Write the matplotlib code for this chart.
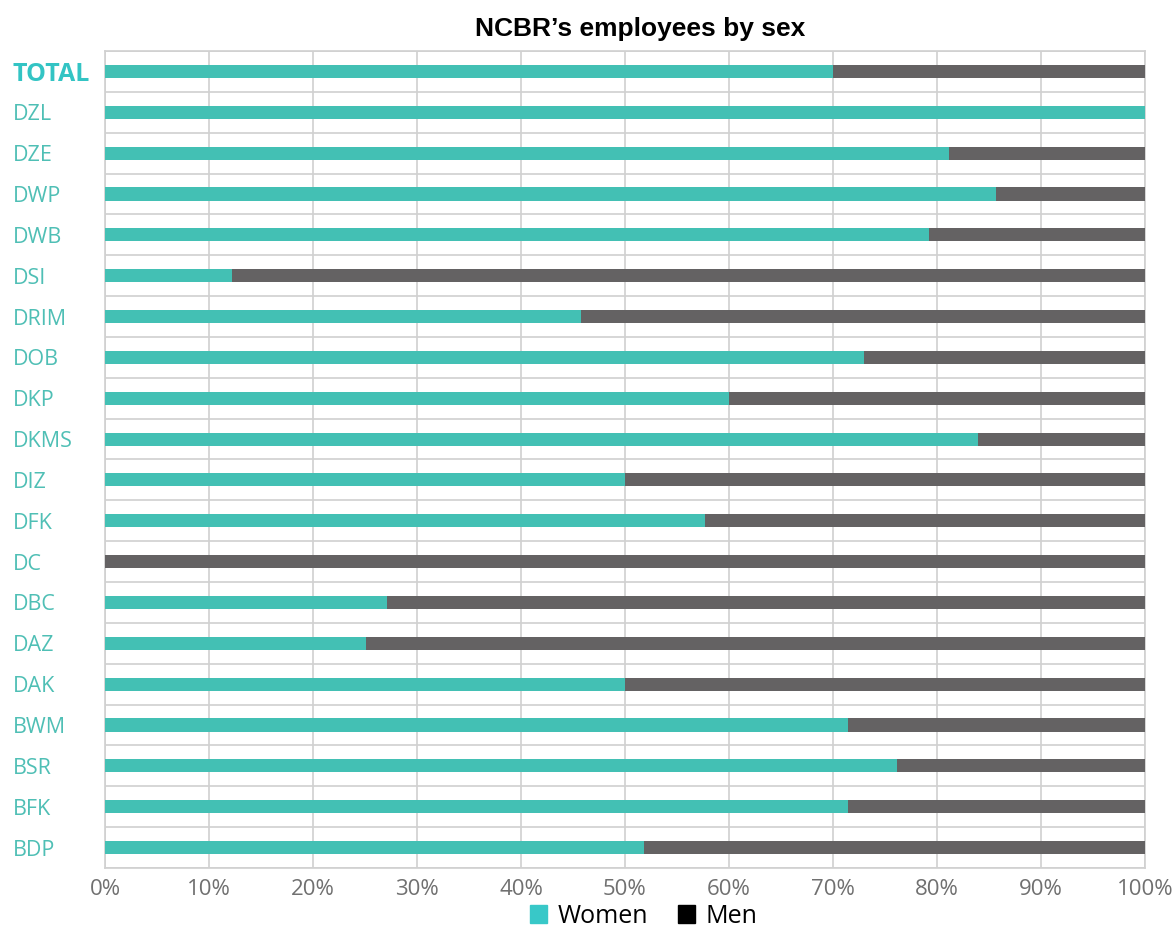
import numpy as np
import matplotlib.pyplot as plt
from matplotlib.patches import Patch

# dane: udział kobiet w każdym dziale (%), od góry do dołu
departments = ['TOTAL', 'DZL', 'DZE', 'DWP', 'DWB', 'DSI', 'DRIM', 'DOB', 'DKP', 'DKMS',
               'DIZ', 'DFK', 'DC', 'DBC', 'DAZ', 'DAK', 'BWM', 'BSR', 'BFK', 'BDP']
women_pct = [70.0, 100.0, 81.2, 85.7, 79.2, 12.2, 45.8, 73.0, 60.0, 83.9,
             50.0, 57.7, 0.0, 27.1, 25.1, 50.0, 71.4, 76.2, 71.4, 51.8]
men_pct = [100 - w for w in women_pct]

teal = '#43c0b4'
grey = '#646263'
grid_c = '#d0d0d0'
font = 'Open Sans'

fig = plt.figure(figsize=(11.74, 9.3), dpi=100)
ax = fig.add_axes([105 / 1174, 62 / 930, 1040 / 1174, 817 / 930])

y = np.arange(len(departments))
h = 0.32
ax.barh(y, women_pct, height=h, color=teal, zorder=3)
ax.barh(y, men_pct, left=women_pct, height=h, color=grey, zorder=3)

ax.set_xlim(0, 100)
ax.set_ylim(len(departments) - 0.5, -0.5)

ax.set_xticks(np.arange(0, 101, 10))
ax.set_xticklabels([f'{v}%' for v in range(0, 101, 10)])
ax.set_yticks(y)
ax.set_yticklabels(departments)
ax.set_yticks(np.arange(-0.5, len(departments), 1), minor=True)

ax.grid(True, axis='x', color=grid_c, linewidth=1.2, zorder=0)
ax.grid(True, axis='y', which='minor', color=grid_c, linewidth=1.2, zorder=0)
ax.tick_params(axis='both', which='both', length=0)
ax.tick_params(axis='x', pad=8, labelsize=16, labelcolor='#707070')
ax.tick_params(axis='y', pad=66.5, labelsize=15.5, labelcolor='#4fbfb5')
for lab in ax.get_xticklabels() + ax.get_yticklabels():
    lab.set_family(font)
for lab in ax.get_yticklabels():
    lab.set_horizontalalignment('left')
    if lab.get_text() == 'TOTAL':
        lab.set_fontweight('bold')
        lab.set_fontsize(18)
        lab.set_color('#33c4c4')

for s in ax.spines.values():
    s.set_color(grid_c)
    s.set_linewidth(1.2)

fig.text(0.545, 0.969, 'NCBR\u2019s employees by sex', ha='center', va='center',
         fontsize=19, fontweight='bold', family='Liberation Sans')

handles = [Patch(color='#38c8c8', label='Women'), Patch(color='black', label='Men')]
fig.legend(handles=handles, loc='center', bbox_to_anchor=(0.548, 0.015), ncol=2,
           frameon=False, handlelength=0.7, handleheight=0.7, borderpad=0.2,
           handletextpad=0.4, columnspacing=1.2, prop={'family': font, 'size': 18})

fig.savefig('out.png', dpi=100)
